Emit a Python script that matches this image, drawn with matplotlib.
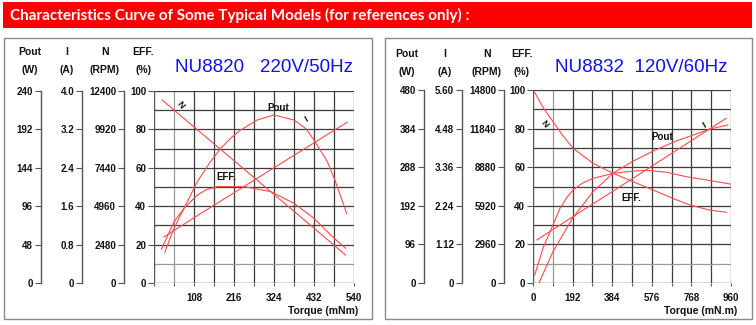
import matplotlib
matplotlib.use("Agg")
import matplotlib.pyplot as plt
from matplotlib.patches import Rectangle

W, H = 756, 325

# ---------------- data ----------------
title_text = "Characteristics Curve of Some Typical Models (for references only) :"

# Left model NU8820
l_model = "NU8820   220V/50Hz"
l_pout_ticks = [0, 48, 96, 144, 192, 240]
l_i_ticks = [0, 0.8, 1.6, 2.4, 3.2, 4.0]
l_i_labels = ["0", "0.8", "1.6", "2.4", "3.2", "4.0"]
l_n_ticks = [0, 2480, 4960, 7440, 9920, 12400]
l_eff_ticks = [0, 20, 40, 60, 80, 100]
l_x_ticks = [108, 216, 324, 432, 540]

l_n_torque = [22, 108, 216, 324, 432, 517]
l_n_rpm = [11820, 10080, 7900, 5720, 3540, 1810]
l_i_torque = [27, 108, 216, 324, 432, 522]
l_i_amp = [0.96, 1.36, 1.88, 2.40, 2.92, 3.35]
l_pout_torque = [29, 54, 81, 117, 150, 180, 207, 234, 279, 324, 378, 410, 432, 468, 490, 520]
l_pout_w = [38.4, 68.4, 93.4, 126.7, 150.0, 168.2, 181.0, 191.3, 203.8, 210.0, 203.8, 193.0, 178.8, 151.7, 126.7, 87.1]
l_eff_torque = [20, 54, 81, 117, 140, 171, 243, 315, 378, 432, 477, 517]
l_eff_pct = [17.5, 31.9, 38.9, 45.8, 48.5, 50.2, 50.2, 47.6, 41.5, 33.7, 25.0, 18.1]

# Right model NU8832
r_model = "NU8832  120V/60Hz"
r_pout_ticks = [0, 96, 192, 288, 384, 480]
r_i_ticks = [0, 1.12, 2.24, 3.36, 4.48, 5.60]
r_i_labels = ["0", "1.12", "2.24", "3.36", "4.48", "5.60"]
r_n_ticks = [0, 2960, 5920, 8880, 11840, 14800]
r_eff_ticks = [0, 20, 40, 60, 80, 100]
r_x_ticks = [0, 192, 384, 576, 768, 960]

r_n_torque = [8, 50, 97, 145, 194, 291, 388, 485, 582, 679, 760, 857, 937]
r_n_rpm = [14620, 13420, 12370, 11300, 10330, 9180, 8410, 7770, 7130, 6480, 5980, 5590, 5420]
r_i_torque = [19, 192, 384, 576, 768, 937]
r_i_amp = [1.25, 1.92, 2.65, 3.39, 4.13, 4.78]
r_pout_torque = [29, 97, 194, 291, 388, 485, 582, 679, 776, 866, 945]
r_pout_w = [0, 78, 163, 227, 273, 303, 328, 350, 368, 384, 393]
r_eff_torque = [8, 50, 97, 130, 162, 194, 240, 291, 388, 485, 550, 646, 743, 840, 960]
r_eff_pct = [4.1, 18.5, 30.1, 38.5, 43.9, 48.2, 51.8, 54.2, 56.8, 58.0, 58.4, 57.4, 55.1, 53.4, 51.2]

# ---------------- styling ----------------
FONT = "Liberation Sans"
CURVE = "#ff4a4a"
GRID = "#3c3c3c"
AXC = "#555555"
TXT = "#111111"

fig = plt.figure(figsize=(W / 100, H / 100), dpi=100)


def fx(x):
    return x / W


def fy(y):
    return 1 - y / H


# title bar
fig.patches.append(Rectangle((fx(3), fy(27.5)), fx(752) - fx(3), fy(2) - fy(27.5),
                             transform=fig.transFigure, facecolor="#ff0000",
                             edgecolor="none", zorder=0))
fig.text(fx(10), fy(15), title_text, color="white", fontsize=11, fontweight="bold",
         family="Lato", va="center", ha="left")


def panel(box, ax_rect, side_x, headers_x, header_y, model, model_x,
          xmax, x_ticks, pout_ticks, i_ticks, i_labels, n_ticks, eff_ticks,
          curves, labels, xlabel, xlabel_x):
    bx0, by0, bx1, by1 = box
    fig.patches.append(Rectangle((fx(bx0), fy(by1)), fx(bx1) - fx(bx0), fy(by0) - fy(by1),
                                 transform=fig.transFigure, facecolor="none",
                                 edgecolor="#8a8a8a", lw=1.0, zorder=0))
    x0, y0, x1, y1 = ax_rect
    ax = fig.add_axes([fx(x0), fy(y1), fx(x1) - fx(x0), fy(y0) - fy(y1)])
    ax.set_xlim(0, xmax)
    ax.set_ylim(0, 100)
    for s in ax.spines.values():
        s.set_visible(False)
    step = xmax / 10
    for k in range(1, 11):
        ax.axvline(k * step, color=("#9a9a9a" if k == 1 else GRID), lw=0.9, zorder=1)
    for k in range(1, 11):
        ax.axhline(k * 10, color=("#9a9a9a" if k == 1 else GRID), lw=0.9, zorder=1)
    ax.axvline(0, color=AXC, lw=1.0, zorder=1)
    ax.axhline(0, color=AXC, lw=1.0, zorder=1)
    xt = [k * step for k in range(0, 11)]
    ax.set_xticks(xt)
    ax.set_xticklabels([(f"{int(round(v))}" if int(round(v)) in x_ticks else "") for v in xt],
                       family=FONT, fontsize=7, fontweight="bold", color=TXT)
    ax.tick_params(axis="x", length=2.5, pad=5, color=AXC, width=0.8)
    ax.set_yticks(eff_ticks)
    ax.set_yticklabels([str(v) for v in eff_ticks], family=FONT, fontsize=7,
                       fontweight="bold", color=TXT)
    ax.tick_params(axis="y", length=4.5, pad=1.2, color=AXC, width=0.8)

    (pt, pw), (it, ia), (nt, nr), (et, ep) = curves
    for (tx, vals, top) in [(pt, pw, pout_ticks[-1]), (it, ia, i_ticks[-1]), (nt, nr, n_ticks[-1])]:
        tw = ax.twinx()
        tw.set_ylim(0, top)
        tw.set_xlim(0, xmax)
        tw.axis("off")
        tw.plot(tx, vals, color=CURVE, lw=0.8, clip_on=True)
    ax.plot(et, ep, color=CURVE, lw=0.8, zorder=3)

    for (txt, lx, ly, rot) in labels:
        ax.text(lx, ly, txt, fontsize=7 if len(txt) > 1 else 6.5, family=FONT,
                fontweight="bold", rotation=rot, ha="center", va="center",
                color=TXT, zorder=5)

    side_sets = [(pout_ticks, [str(v) for v in pout_ticks]),
                 (i_ticks, i_labels),
                 (n_ticks, [str(v) for v in n_ticks])]
    for sx, (tks, lbls) in zip(side_x, side_sets):
        sa = fig.add_axes([fx(sx), fy(y1), 0.0001, fy(y0) - fy(y1)])
        sa.patch.set_visible(False)
        for nm in ("top", "right", "bottom"):
            sa.spines[nm].set_visible(False)
        sa.spines["left"].set_color(AXC)
        sa.spines["left"].set_linewidth(1.0)
        sa.set_xticks([])
        sa.set_ylim(0, tks[-1])
        sa.set_yticks(tks)
        sa.set_yticklabels(lbls, family=FONT, fontsize=7, fontweight="bold", color=TXT)
        sa.tick_params(axis="y", length=4.5, pad=1.2, color=AXC, width=0.8)

    heads = [("Pout", "(W)"), ("I", "(A)"), ("N", "(RPM)"), ("EFF.", "(%)")]
    for hx, (a, b) in zip(headers_x, heads):
        fig.text(fx(hx), fy(header_y), a, family=FONT, fontsize=7.5, fontweight="bold",
                 color=TXT, ha="center", va="center")
        fig.text(fx(hx), fy(header_y + 18), b, family=FONT, fontsize=7.5, fontweight="bold",
                 color=TXT, ha="center", va="center")

    fig.text(fx(model_x), fy(67), model, family=FONT, fontsize=13.5, color="#1010f5",
             ha="left", va="center")
    fig.text(fx(xlabel_x), fy(311), xlabel, family=FONT, fontsize=7.5, fontweight="bold",
             color=TXT, ha="right", va="center")


panel(box=(4, 38, 372, 319), ax_rect=(154, 91, 354, 283),
      side_x=(41, 82, 124), headers_x=(30, 67, 105, 143), header_y=52,
      model=l_model, model_x=175, xmax=540, x_ticks=l_x_ticks,
      pout_ticks=l_pout_ticks, i_ticks=l_i_ticks, i_labels=l_i_labels,
      n_ticks=l_n_ticks, eff_ticks=l_eff_ticks,
      curves=[(l_pout_torque, l_pout_w), (l_i_torque, l_i_amp),
              (l_n_torque, l_n_rpm), (l_eff_torque, l_eff_pct)],
      labels=[("N", 72, 92.7, -50), ("I", 410, 85.4, 30),
              ("Pout", 335, 91.0, 0), ("EFF.", 194, 55.4, 0)],
      xlabel="Torque (mNm)", xlabel_x=358)

panel(box=(385, 38, 752, 319), ax_rect=(533, 90, 731, 283),
      side_x=(424, 462, 504), headers_x=(407, 445, 487, 522), header_y=54,
      model=r_model, model_x=555, xmax=960, x_ticks=r_x_ticks,
      pout_ticks=r_pout_ticks, i_ticks=r_i_ticks, i_labels=r_i_labels,
      n_ticks=r_n_ticks, eff_ticks=r_eff_ticks,
      curves=[(r_pout_torque, r_pout_w), (r_i_torque, r_i_amp),
              (r_n_torque, r_n_rpm), (r_eff_torque, r_eff_pct)],
      labels=[("N", 53, 82.7, -50), ("I", 830, 81.9, 30),
              ("Pout", 625, 75.8, 0), ("EFF.", 479, 44.1, 0)],
      xlabel="Torque (mN.m)", xlabel_x=737)

fig.savefig("out.png", dpi=100)
